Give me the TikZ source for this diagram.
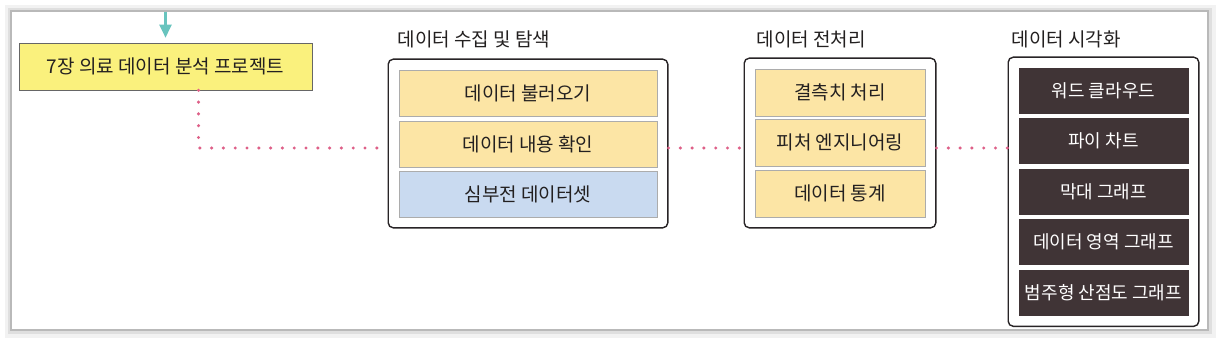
\documentclass[tikz,border=0pt]{standalone}
\usepackage{fontspec}
\setmainfont{Noto Sans CJK KR}
\usetikzlibrary{positioning, calc, fit, arrows.meta}

\begin{document}
\begin{tikzpicture}[
    x=1pt, y=-1pt,
    every node/.style={font=\fontsize{19}{22}\selectfont,
                       text={rgb,255:red,35;green,32;blue,32}},
    stepbox/.style={
        rectangle, draw=gray!65, line width=0.6pt,
        minimum height=46pt, inner sep=0pt, align=center
    },
    darkbox/.style={
        stepbox, minimum width=171pt, minimum height=47pt, draw=white,
        fill={rgb,255:red,64;green,52;blue,54}, text=white,
        font=\fontsize{18}{21}\selectfont
    },
    groupbox/.style={
        rectangle, rounded corners=5pt,
        draw={rgb,255:red,40;green,36;blue,38}, line width=1.4pt,
        inner sep=10.5pt
    },
    grplabel/.style={anchor=west, inner sep=0pt},
    conn/.style={
        draw={rgb,255:red,222;green,96;blue,136}, line width=3.4pt,
        line cap=round, dash pattern=on 0pt off 11.8pt
    }
]

%% ── Page with shadow ───────────────────────────────────────────────
\useasboundingbox (0,0) rectangle (1221,342);
\fill[gray!10] (5,5) rectangle (1216,338);
\fill[gray!25] (8,8) rectangle (1212,334);
\fill[gray!55] (10,10) rectangle (1209,331);
\fill[white] (12,12) rectangle (1207,329);

\coordinate (pagetop) at (165.5,12);
\coordinate (row) at (0,148);

%% ── Project box ────────────────────────────────────────────────────
\node[stepbox, draw=gray!80!black, minimum width=293pt, minimum height=47pt,
      fill={rgb,255:red,250;green,241;blue,125}]
    (title) at (165.5,66.5) {7장 의료 데이터 분석 프로젝트};

\draw[draw={rgb,255:red,104;green,196;blue,190}, line width=2.6pt,
      -{Triangle[width=12pt, length=13pt]}, shorten >=5pt]
    (pagetop) -- (title.north);

%% ── Data collection and exploration ────────────────────────────────
\node[stepbox, minimum width=258pt,
      fill={rgb,255:red,252;green,229;blue,165}]
    (load) at (528,93) {데이터 불러오기};
\node[stepbox, minimum width=258pt,
      fill={rgb,255:red,252;green,229;blue,165}]
    (check) at (528,144) {데이터 내용 확인};
\node[stepbox, minimum width=258pt,
      fill={rgb,255:red,201;green,218;blue,240}]
    (heart) at (528,194) {심부전 데이터셋};
\node[groupbox, fit=(load) (heart)] (g1) {};
\node[grplabel] (lab1) at ([xshift=10pt, yshift=19pt]g1.north west)
    {데이터 수집 및 탐색};

%% ── Preprocessing ──────────────────────────────────────────────────
\node[stepbox, minimum width=170pt, minimum height=47pt,
      fill={rgb,255:red,252;green,229;blue,165}]
    (missing) at (840,92.5) {결측치 처리};
\node[stepbox, minimum width=170pt, minimum height=47pt,
      fill={rgb,255:red,252;green,229;blue,165}]
    (feature) at (840,142.5) {피처 엔지니어링};
\node[stepbox, minimum width=170pt, minimum height=47pt,
      fill={rgb,255:red,252;green,229;blue,165}]
    (stats) at (840,193.5) {데이터 통계};
\node[groupbox, fit=(missing) (stats)] (g2) {};
\node[grplabel] (lab2) at ([xshift=13pt, yshift=18pt]g2.north west)
    {데이터 전처리};

%% ── Visualisation ──────────────────────────────────────────────────
\node[darkbox] (cloud) at (1103.5,90.5) {워드 클라우드};
\node[darkbox] (pie) at (1103.5,141) {파이 차트};
\node[darkbox] (bar) at (1103.5,191.5) {막대 그래프};
\node[darkbox] (area) at (1103.5,242) {데이터 영역 그래프};
\node[darkbox] (scatter) at (1103.5,293) {범주형 산점도 그래프};
\node[groupbox, fit=(cloud) (scatter), inner sep=9.5pt] (g3) {};
\node[grplabel] (lab3) at ([xshift=4pt, yshift=17pt]g3.north west)
    {데이터 시각화};

%% ── Dotted connectors ──────────────────────────────────────────────
\draw[conn] ([xshift=33pt]title.south) |- (g1.west |- row);
\draw[conn] (g1.east |- row) -- (g2.west |- row);
\draw[conn] (g2.east |- row) -- (g3.west |- row);

\end{tikzpicture}
\end{document}
